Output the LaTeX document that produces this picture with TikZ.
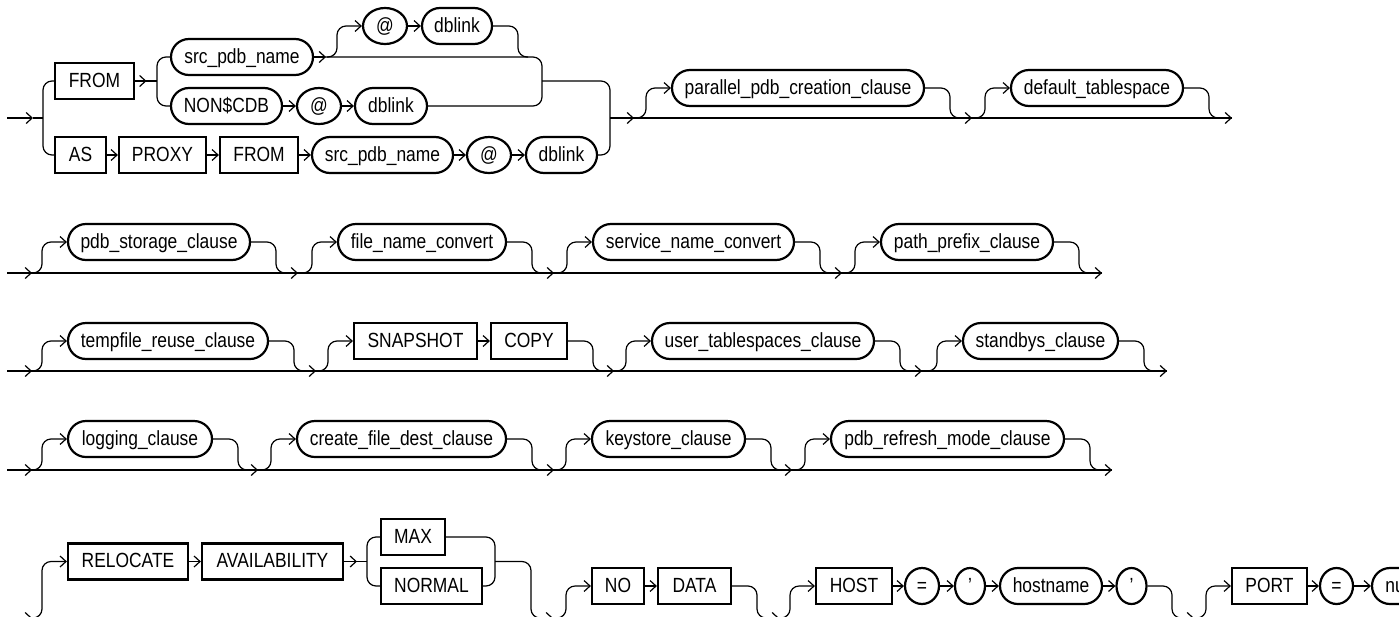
\documentclass[tikz,border=0pt]{standalone}
\usepackage{fontspec}
\setmainfont{Liberation Sans}[FakeStretch=0.85]
\usetikzlibrary{arrows.meta, shapes.geometric}

\begin{document}
\begin{tikzpicture}[
	x=1pt, y=-1pt,
	kwd/.style={draw, line width=2.2pt, minimum height=36pt, inner sep=2pt,
		text height=15pt, text depth=2.5pt,
		font=\fontsize{20.5}{24}\selectfont},
	pill/.style={kwd, rounded corners=18pt},
	sym/.style={kwd, ellipse, inner sep=0pt},
	rail/.style={line width=1.2pt, rounded corners=9pt},
	>={Straight Barb[length=6pt,width=11pt]}
	]
	\useasboundingbox (0,0) rectangle (1399,616);
	\clip (0,0) rectangle (1399,616);

	\node[kwd, minimum width=79] (from1) at (94.5,81) {FROM};
	\node[pill, minimum width=142] (src1) at (242,57) {src\_pdb\_name};
	\node[sym, minimum width=44] (at1) at (385,26) {@};
	\node[pill, minimum width=70] (db1) at (457,26) {dblink};
	\node[pill, minimum width=111] (noncdb) at (226.5,106) {NON\$CDB};
	\node[sym, minimum width=44] (at2) at (319,106) {@};
	\node[pill, minimum width=72] (db2) at (391,106) {dblink};
	\node[kwd, minimum width=51] (as) at (80.5,155) {AS};
	\node[kwd, minimum width=87] (proxy) at (162.5,155) {PROXY};
	\node[kwd, minimum width=78] (from2) at (259,155) {FROM};
	\node[pill, minimum width=141] (src2) at (382.5,155) {src\_pdb\_name};
	\node[sym, minimum width=44] (at3) at (489,155) {@};
	\node[pill, minimum width=71] (db3) at (561.5,155) {dblink};
	\node[pill, minimum width=252] (par) at (798,88) {parallel\_pdb\_creation\_clause};
	\node[pill, minimum width=172] (dflt) at (1097,88) {default\_tablespace};

	\coordinate (j1) at (43,118);
	\coordinate (j2) at (157,81);
	\coordinate (j3) at (542,81);
	\coordinate (j4) at (610,118);

	\draw[rail,->] (7,118) -- (33,118);
	\draw[rail] (33,118) -- (j1);
	\draw[rail] (from1.west) -| (j1) |- (as.west);
	\draw[rail] (from1) -- (j2);
	\draw[rail,->] (from1) -- ++(52,0);
	\draw[rail] (src1.west) -| (j2) |- (noncdb.west);
	\draw[rail] (src1.east) -| (j3) |- (db2.east);
	\draw[rail,->] (src1) -- ++(84,0);
	\draw[rail,->] (327,57) -- ++(10,0) |- (at1.west);
	\draw[rail,->] (at1) -- (db1);
	\draw[rail] (db1.east) -| (518,57) -- ++(10,0);
	\draw[rail,->] (noncdb) -- (at2);
	\draw[rail,->] (at2) -- (db2);
	\draw[rail,->] (as) -- (proxy);
	\draw[rail,->] (proxy) -- (from2);
	\draw[rail,->] (from2) -- (src2);
	\draw[rail,->] (src2) -- (at3);
	\draw[rail,->] (at3) -- (db3);
	\draw[rail] (j3) -| (j4) |- (db3.east);
	\draw[rail] (j4) -- (1232,118);
	\draw[rail,->] (j4) -- (634,118);
	\draw[rail,->] (636,118) -- ++(10,0) |- (par.west);
	\draw[rail,->] (par.east) -| (950,118) -- (972,118);
	\draw[rail,->] (975,118) -- ++(10,0) |- (dflt.west);
	\draw[rail,->] (dflt.east) -| (1209,118) -- (1232,118);

	\node[pill, minimum width=182] (sto) at (159,242) {pdb\_storage\_clause};
	\node[pill, minimum width=168] (fnc) at (422,242) {file\_name\_convert};
	\node[pill, minimum width=201] (snc) at (693.5,242) {service\_name\_convert};
	\node[pill, minimum width=172] (ppc) at (967,242) {path\_prefix\_clause};

	\draw[rail] (7,273) -- (1102,273);
	\draw[rail,->] (7,273) -- (32,273);
	\draw[rail,->] (32,273) -- ++(10,0) |- (sto.west);
	\draw[rail,->] (sto.east) -| (276,273) -- (298,273);
	\draw[rail,->] (302,273) -- ++(10,0) |- (fnc.west);
	\draw[rail,->] (fnc.east) -| (532,273) -- (554,273);
	\draw[rail,->] (557,273) -- ++(10,0) |- (snc.west);
	\draw[rail,->] (snc.east) -| (820,273) -- (842,273);
	\draw[rail,->] (845,273) -- ++(10,0) |- (ppc.west);
	\draw[rail,->] (ppc.east) -| (1079,273) -- (1102,273);

	\node[pill, minimum width=200] (tmp) at (168,341) {tempfile\_reuse\_clause};
	\node[kwd, minimum width=123] (snap) at (415.5,341) {SNAPSHOT};
	\node[kwd, minimum width=76] (copy) at (529,341) {COPY};
	\node[pill, minimum width=222] (utc) at (763,341) {user\_tablespaces\_clause};
	\node[pill, minimum width=155] (sby) at (1040.5,341) {standbys\_clause};

	\draw[rail] (7,371) -- (1167,371);
	\draw[rail,->] (7,371) -- (32,371);
	\draw[rail,->] (32,371) -- ++(10,0) |- (tmp.west);
	\draw[rail,->] (tmp.east) -| (294,371) -- (316,371);
	\draw[rail,->] (318,371) -- ++(10,0) |- (snap.west);
	\draw[rail,->] (snap) -- (copy);
	\draw[rail,->] (copy.east) -| (593,371) -- (614,371);
	\draw[rail,->] (616,371) -- ++(10,0) |- (utc.west);
	\draw[rail,->] (utc.east) -| (900,371) -- (922,371);
	\draw[rail,->] (927,371) -- ++(10,0) |- (sby.west);
	\draw[rail,->] (sby.east) -| (1144,371) -- (1167,371);

	\node[pill, minimum width=144] (log) at (140,439) {logging\_clause};
	\node[pill, minimum width=209] (cfd) at (401.5,439) {create\_file\_dest\_clause};
	\node[pill, minimum width=153] (ksc) at (668.5,439) {keystore\_clause};
	\node[pill, minimum width=233] (prm) at (947.5,439) {pdb\_refresh\_mode\_clause};

	\draw[rail] (7,470) -- (1112,470);
	\draw[rail,->] (7,470) -- (32,470);
	\draw[rail,->] (32,470) -- ++(10,0) |- (log.west);
	\draw[rail,->] (log.east) -| (238,470) -- (258,470);
	\draw[rail,->] (261,470) -- ++(10,0) |- (cfd.west);
	\draw[rail,->] (cfd.east) -| (532,470) -- (554,470);
	\draw[rail,->] (556,470) -- ++(10,0) |- (ksc.west);
	\draw[rail,->] (ksc.east) -| (771,470) -- (792,470);
	\draw[rail,->] (795,470) -- ++(10,0) |- (prm.west);
	\draw[rail,->] (prm.east) -| (1090,470) -- (1112,470);

	\node[kwd, minimum width=120] (rel) at (128,561.5) {RELOCATE};
	\node[kwd, minimum width=141] (avl) at (272.5,561.5) {AVAILABILITY};
	\node[kwd, minimum width=64] (mx) at (413,537) {MAX};
	\node[kwd, minimum width=101] (nrm) at (431.5,586) {NORMAL};
	\node[kwd, minimum width=52] (no) at (618,586) {NO};
	\node[kwd, minimum width=73] (dat) at (694.5,586) {DATA};
	\node[kwd, minimum width=76] (host) at (854,586) {HOST};
	\node[sym, minimum width=34] (eq1) at (922,586) {=};
	\node[sym, minimum width=30] (q1) at (970,586) {'};
	\node[pill, minimum width=102] (hn) at (1051,586) {hostname};
	\node[sym, minimum width=30] (q2) at (1131.5,586) {'};
	\node[kwd, minimum width=75] (port) at (1269.5,586) {PORT};
	\node[sym, minimum width=33] (eq2) at (1336.5,586) {=};
	\node[pill, minimum width=86] (num) at (1415,586) {number};

	\coordinate (j5) at (367,561.5);
	\coordinate (j6) at (495,561.5);

	\draw[rail] (7,618) -- (1400,618);
	\draw[rail,->] (7,618) -- (32,618);
	\draw[rail,->] (32,618) -- ++(10,0) |- (rel.west);
	\draw[rail,->] (rel) -- (avl);
	\draw[rail] (avl) -- (j5);
	\draw[rail,->] (avl) -- ++(84.5,0);
	\draw[rail] (mx.west) -| (j5) |- (nrm.west);
	\draw[rail] (mx.east) -| (j6) |- (nrm.east);
	\draw[rail,->] (j6) -| (531,618) -- (553,618);
	\draw[rail,->] (556,618) -- ++(10,0) |- (no.west);
	\draw[rail,->] (no) -- (dat);
	\draw[rail,->] (dat.east) -| (757,618) -- (779,618);
	\draw[rail,->] (780,618) -- ++(10,0) |- (host.west);
	\draw[rail,->] (host) -- (eq1);
	\draw[rail,->] (eq1) -- (q1);
	\draw[rail,->] (q1) -- (hn);
	\draw[rail,->] (hn) -- (q2);
	\draw[rail,->] (q2.east) -| (1172,618) -- (1194,618);
	\draw[rail,->] (1196,618) -- ++(10,0) |- (port.west);
	\draw[rail,->] (port) -- (eq2);
	\draw[rail,->] (eq2) -- (num);
\end{tikzpicture}
\end{document}
